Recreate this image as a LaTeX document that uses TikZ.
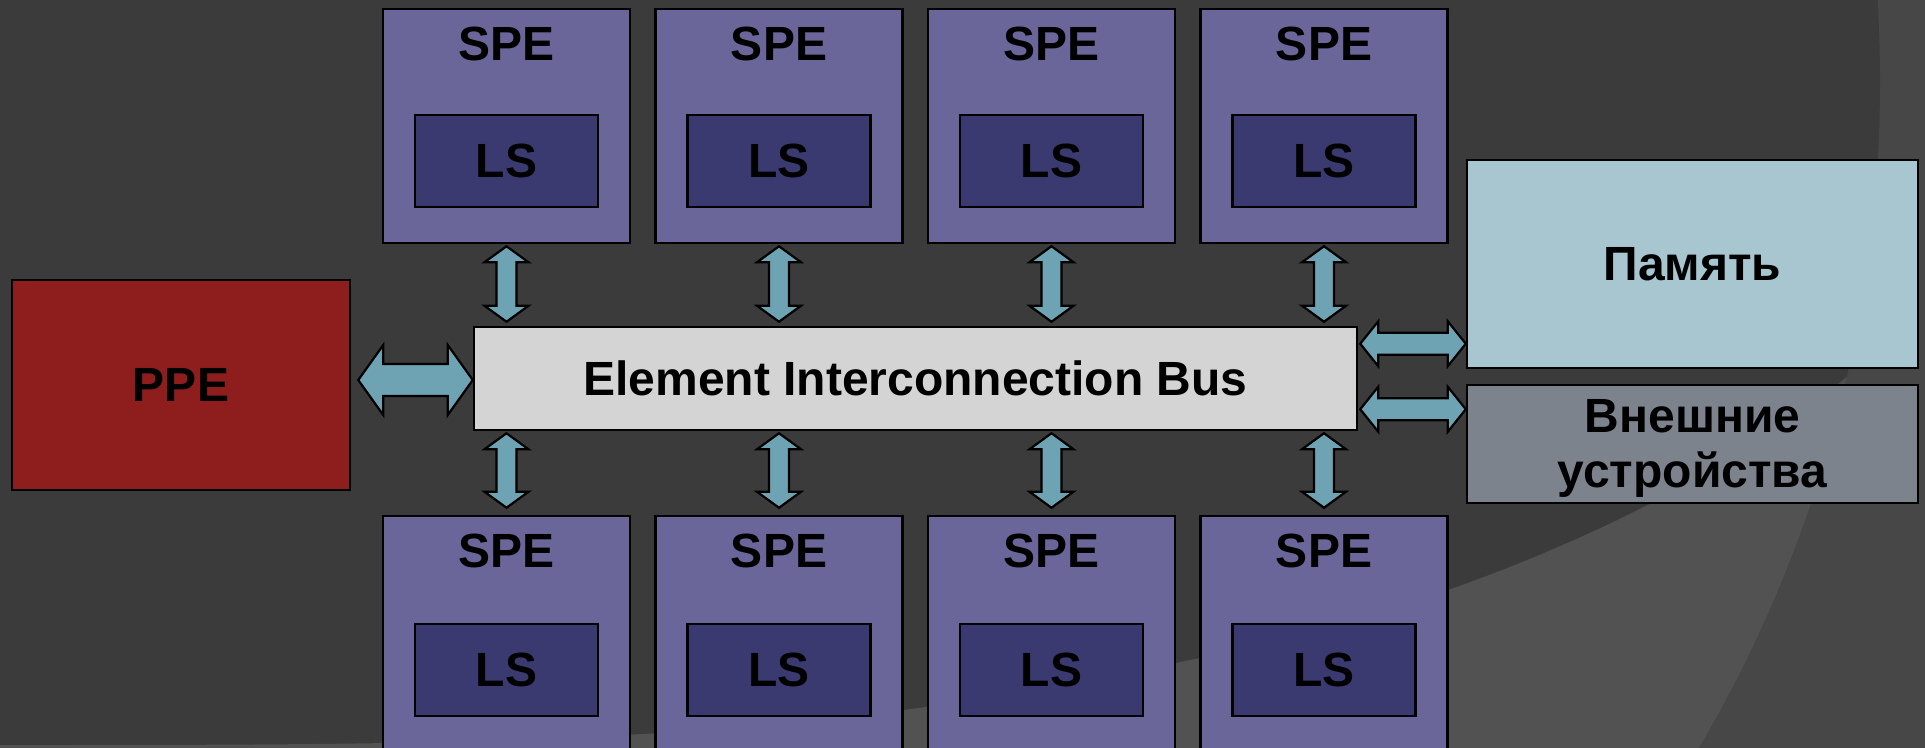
\documentclass[tikz,border=0pt]{standalone}
\usepackage{fontspec}
\setmainfont{Liberation Sans}
\usetikzlibrary{calc,positioning}
\definecolor{bgouter}{HTML}{474747}
\definecolor{bgdark}{HTML}{3B3B3B}
\definecolor{bglight}{HTML}{525252}
\definecolor{spefill}{HTML}{6A6699}
\definecolor{lsfill}{HTML}{3B3A70}
\definecolor{ppefill}{HTML}{8E1E1E}
\definecolor{busfill}{HTML}{D4D4D4}
\definecolor{memfill}{HTML}{A8C6D0}
\definecolor{extfill}{HTML}{7D838C}
\definecolor{linkfill}{HTML}{6DA3B3}
\tikzset{lbl/.style={font=\fontsize{48}{55}\selectfont\bfseries,inner sep=0pt}}

% fat double arrows: tips #1 and #2
\newcommand{\varrow}[2]{%
  \draw[link] (#1) -- ++(22,16) -- ++(-12,0) -- ($(#2)+(10,-16)$) -- ++(12,0) -- (#2)
    -- ++(-22,-16) -- ++(12,0) -- ($(#1)+(-10,16)$) -- ++(-12,0) -- cycle;}
\newcommand{\harrow}[5]{% half shaft #3, half head #4, head length #5
  \draw[link] (#1) -- ++(#5,-#4) -- ++(0,#4-#3) -- ($(#2)+(-#5,-#3)$) -- ++(0,#3-#4) -- (#2)
    -- ++(-#5,#4) -- ++(0,#3-#4) -- ($(#1)+(#5,#3)$) -- ++(0,#4-#3) -- cycle;}

\begin{document}
\begin{tikzpicture}[x=1pt,y=-1pt,
    box/.style={lbl,draw=black,line width=2.5pt,align=center},
    spebox/.style={box,fill=spefill,minimum width=247pt,minimum height=234pt},
    lsbox/.style={box,fill=lsfill,minimum width=183pt,minimum height=92pt},
    link/.style={draw=black,fill=linkfill,line width=2.2pt}]
  \useasboundingbox (0,0) rectangle (1925,747);
  % background swirl
  \fill[bgouter] (-10,-10) rectangle (1935,760);
  \fill[bgdark] (566,82) circle[radius=1314];
  \begin{scope}
    \clip (566,82) circle[radius=1314];
    \fill[bglight] (0,745) .. controls (500,745) and (800,745) .. (1190,660)
      .. controls (1450,610) and (1700,500) .. (1848,376) -- (1925,320)
      -- (1935,760) -- (-10,760) -- cycle;
  \end{scope}

  \node[box,fill=ppefill,minimum width=338pt,minimum height=210pt] (ppe) at (181,385) {PPE};
  \node[box,fill=busfill,minimum width=883pt,minimum height=103pt] (bus) at (915.5,378.5) {Element Interconnection Bus};
  \node[box,fill=memfill,minimum width=451pt,minimum height=208pt] (mem) at (1692.5,264) {Память};
  \node[box,fill=extfill,minimum width=451pt,minimum height=118pt] (ext) at (1692.5,444) {};
  \node[lbl,align=center] (ext-t) at ($(ext.center)+(0,4)$) {Внешние\\устройства};

  \foreach \i in {0,...,3} {
    % upper row
    \node[spebox] (up\i) at (506.5+272.5*\i,126) {};
    \node[lbl] (up\i-t) at ($(up\i.north)+(0,36.5)$) {SPE};
    \node[lsbox] (up\i-ls) at ($(up\i.center)+(0,35)$) {LS};
    % lower row
    \node[spebox] (lo\i) at (506.5+272.5*\i,633) {};
    \node[lbl] (lo\i-t) at ($(lo\i.north)+(0,36.5)$) {SPE};
    \node[lsbox] (lo\i-ls) at ($(lo\i.center)+(0,37)$) {LS};
  }

  \foreach \i in {0,...,3} {
    \coordinate (ua\i) at ($(up\i.south)+(0,2)$);
    \coordinate (ub\i) at ($(bus.north -| up\i.center)+(0,-4)$);
    \varrow{ua\i}{ub\i}
    \coordinate (la\i) at ($(bus.south -| lo\i.center)+(0,2)$);
    \coordinate (lb\i) at ($(lo\i.north)+(0,-7)$);
    \varrow{la\i}{lb\i}
  }

  \coordinate (p1) at ($(ppe.east |- bus.west)+(7,1.5)$);
  \coordinate (p2) at (bus.west |- p1);
  \harrow{p1}{p2}{16}{35}{25}
  \coordinate (m1) at ($(bus.north east)+(2,18)$);
  \coordinate (m2) at (mem.west |- m1);
  \harrow{m1}{m2}{11}{22.5}{18}
  \coordinate (d1) at ($(bus.south east)+(2,-22)$);
  \coordinate (d2) at (ext.west |- d1);
  \harrow{d1}{d2}{11}{22.5}{18}
\end{tikzpicture}
\end{document}
